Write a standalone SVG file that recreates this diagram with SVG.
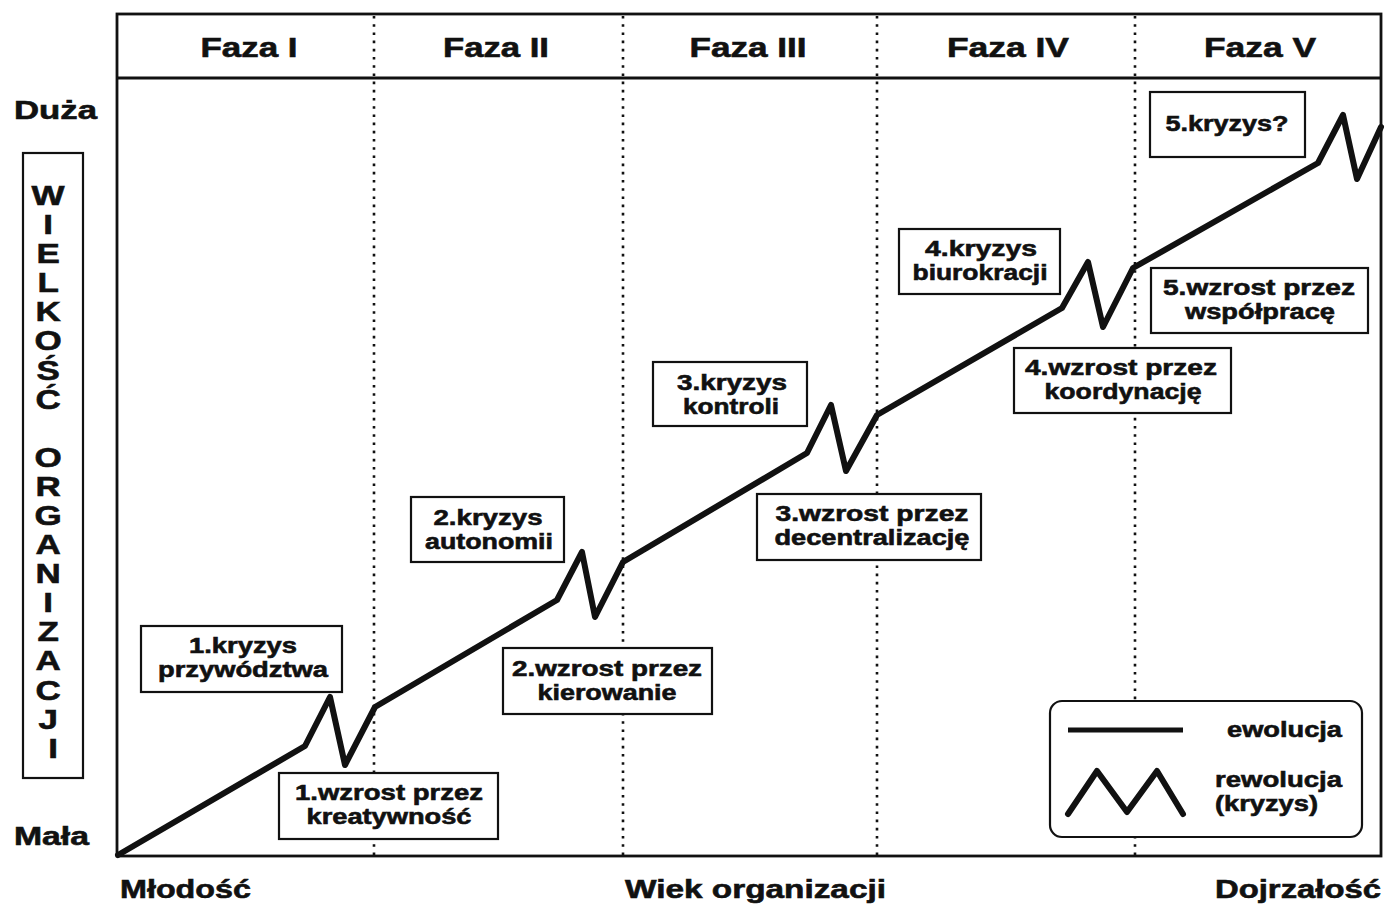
<svg xmlns="http://www.w3.org/2000/svg" width="1385" height="904" viewBox="0 0 1385 904">
  <style>
    text { font-family: "Liberation Sans", Arial, sans-serif; font-weight: bold; fill: #111; stroke: #111; stroke-width: 0.6; }
    .hdr { font-size: 27px; text-anchor: middle; }
    .axis { font-size: 26px; }
    .lbl { font-size: 22px; text-anchor: middle; }
    .leg { font-size: 22px; }
    .box { fill: #fff; stroke: #111; stroke-width: 2.2; }
    .frame { fill: none; stroke: #111; stroke-width: 2.8; }
    .phase { stroke: #111; stroke-width: 2.6; stroke-dasharray: 2.6 5.6; fill: none; }
    .curve { fill: none; stroke: #111; stroke-width: 6; stroke-linejoin: round; stroke-linecap: round; }
  </style>

  <rect width="1385" height="904" fill="#fff"/>

  <!-- chart frame and header band -->
  <g id="frame">
    <rect class="frame" x="117" y="14" width="1264" height="842"/>
    <line class="frame" x1="117" y1="78" x2="1381" y2="78"/>
  </g>

  <!-- phase separators -->
  <g id="phase-lines">
    <line class="phase" x1="374" y1="16" x2="374" y2="855"/>
    <line class="phase" x1="623" y1="16" x2="623" y2="855"/>
    <line class="phase" x1="877" y1="16" x2="877" y2="855"/>
    <line class="phase" x1="1135" y1="16" x2="1135" y2="855"/>
  </g>

  <!-- phase titles -->
  <g id="phase-titles">
    <text class="hdr" x="249" y="57" textLength="97" lengthAdjust="spacingAndGlyphs">Faza I</text>
    <text class="hdr" x="496" y="57" textLength="106" lengthAdjust="spacingAndGlyphs">Faza II</text>
    <text class="hdr" x="748" y="57" textLength="117" lengthAdjust="spacingAndGlyphs">Faza III</text>
    <text class="hdr" x="1008" y="57" textLength="122" lengthAdjust="spacingAndGlyphs">Faza IV</text>
    <text class="hdr" x="1260" y="57" textLength="112" lengthAdjust="spacingAndGlyphs">Faza V</text>
  </g>

  <!-- axis labels -->
  <g id="axis-labels">
    <text class="axis" x="14" y="119" textLength="83" lengthAdjust="spacingAndGlyphs">Duża</text>
    <text class="axis" x="14" y="845" textLength="75" lengthAdjust="spacingAndGlyphs">Mała</text>
    <text class="axis" x="120" y="898" textLength="131" lengthAdjust="spacingAndGlyphs">Młodość</text>
    <text class="axis" x="625" y="898" textLength="261" lengthAdjust="spacingAndGlyphs">Wiek organizacji</text>
    <text class="axis" x="1215" y="898" textLength="166" lengthAdjust="spacingAndGlyphs">Dojrzałość</text>
  </g>

  <!-- vertical axis title -->
  <g id="size-axis-title">
    <rect class="box" x="23" y="153" width="60" height="625"/>
    <g transform="translate(53,0) scale(1.25,1)">
      <text font-size="28" text-anchor="middle">
        <tspan x="0" y="205">W</tspan>
        <tspan x="0" y="234">I</tspan>
        <tspan x="0" y="263">E</tspan>
        <tspan x="0" y="292">L</tspan>
        <tspan x="0" y="321">K</tspan>
        <tspan x="0" y="350">O</tspan>
        <tspan x="0" y="380">Ś</tspan>
        <tspan x="0" y="409">Ć</tspan>
        <tspan x="0" y="467">O</tspan>
        <tspan x="0" y="496">R</tspan>
        <tspan x="0" y="525">G</tspan>
        <tspan x="0" y="554">A</tspan>
        <tspan x="0" y="583">N</tspan>
        <tspan x="0" y="612">I</tspan>
        <tspan x="0" y="641">Z</tspan>
        <tspan x="0" y="670">A</tspan>
        <tspan x="0" y="700">C</tspan>
        <tspan x="0" y="729">J</tspan>
        <tspan x="0" y="758">I</tspan>
      </text>
    </g>
  </g>

  <!-- growth curve: evolution segments broken by revolution zigzags -->
  <g id="connectors">
    <polyline class="curve" points="118,855 305,746 330,697 345,765 375,707 557,600 582,552 595,617 623,562 807,453 831,405 846,471 877,415 1062,308 1088,262 1103,327 1133,268 1318,163 1343,115 1357,179 1381,127"/>
  </g>

  <!-- crisis and growth labels -->
  <g id="crisis-1">
    <rect class="box" x="141" y="626" width="201" height="66"/>
    <text class="lbl" x="243" y="653" textLength="108" lengthAdjust="spacingAndGlyphs">1.kryzys</text>
    <text class="lbl" x="243" y="677" textLength="170" lengthAdjust="spacingAndGlyphs">przywództwa</text>
  </g>
  <g id="growth-1">
    <rect class="box" x="279" y="773" width="219" height="66"/>
    <text class="lbl" x="389" y="800" textLength="188" lengthAdjust="spacingAndGlyphs">1.wzrost przez</text>
    <text class="lbl" x="389" y="824" textLength="165" lengthAdjust="spacingAndGlyphs">kreatywność</text>
  </g>
  <g id="crisis-2">
    <rect class="box" x="411" y="497" width="153" height="65"/>
    <text class="lbl" x="488" y="525" textLength="109" lengthAdjust="spacingAndGlyphs">2.kryzys</text>
    <text class="lbl" x="489" y="549" textLength="128" lengthAdjust="spacingAndGlyphs">autonomii</text>
  </g>
  <g id="growth-2">
    <rect class="box" x="503" y="648" width="209" height="66"/>
    <text class="lbl" x="607" y="676" textLength="190" lengthAdjust="spacingAndGlyphs">2.wzrost przez</text>
    <text class="lbl" x="607" y="700" textLength="139" lengthAdjust="spacingAndGlyphs">kierowanie</text>
  </g>
  <g id="crisis-3">
    <rect class="box" x="653" y="362" width="154" height="64"/>
    <text class="lbl" x="732" y="390" textLength="110" lengthAdjust="spacingAndGlyphs">3.kryzys</text>
    <text class="lbl" x="731" y="414" textLength="96" lengthAdjust="spacingAndGlyphs">kontroli</text>
  </g>
  <g id="growth-3">
    <rect class="box" x="757" y="494" width="224" height="66"/>
    <text class="lbl" x="872" y="521" textLength="193" lengthAdjust="spacingAndGlyphs">3.wzrost przez</text>
    <text class="lbl" x="872" y="545" textLength="195" lengthAdjust="spacingAndGlyphs">decentralizację</text>
  </g>
  <g id="crisis-4">
    <rect class="box" x="899" y="229" width="161" height="65"/>
    <text class="lbl" x="981" y="256" textLength="112" lengthAdjust="spacingAndGlyphs">4.kryzys</text>
    <text class="lbl" x="980" y="280" textLength="135" lengthAdjust="spacingAndGlyphs">biurokracji</text>
  </g>
  <g id="growth-4">
    <rect class="box" x="1014" y="348" width="217" height="65"/>
    <text class="lbl" x="1121" y="375" textLength="192" lengthAdjust="spacingAndGlyphs">4.wzrost przez</text>
    <text class="lbl" x="1123" y="399" textLength="157" lengthAdjust="spacingAndGlyphs">koordynację</text>
  </g>
  <g id="crisis-5">
    <rect class="box" x="1150" y="92" width="155" height="65"/>
    <text class="lbl" x="1227" y="131" textLength="123" lengthAdjust="spacingAndGlyphs">5.kryzys?</text>
  </g>
  <g id="growth-5">
    <rect class="box" x="1151" y="268" width="217" height="65"/>
    <text class="lbl" x="1259" y="295" textLength="192" lengthAdjust="spacingAndGlyphs">5.wzrost przez</text>
    <text class="lbl" x="1260" y="319" textLength="150" lengthAdjust="spacingAndGlyphs">współpracę</text>
  </g>

  <!-- legend -->
  <g id="legend">
    <rect class="box" x="1050" y="701" width="312" height="136" rx="12" ry="12"/>
    <line x1="1068" y1="730" x2="1183" y2="730" stroke="#111" stroke-width="5"/>
    <polyline class="curve" points="1068,814 1097,771 1127,812 1157,771 1183,814"/>
    <text class="leg" x="1227" y="737" textLength="115" lengthAdjust="spacingAndGlyphs">ewolucja</text>
    <text class="leg" x="1215" y="787" textLength="127" lengthAdjust="spacingAndGlyphs">rewolucja</text>
    <text class="leg" x="1215" y="811" textLength="103" lengthAdjust="spacingAndGlyphs">(kryzys)</text>
  </g>
</svg>
